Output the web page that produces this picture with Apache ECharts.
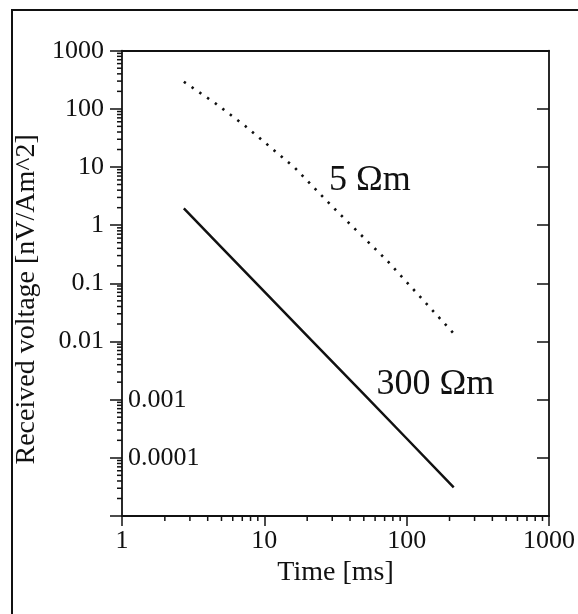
<!DOCTYPE html>
<html>
<head>
<meta charset="utf-8">
<script src="https://cdn.jsdelivr.net/npm/echarts@6/dist/echarts.min.js"></script>
<style>
  html, body { margin: 0; padding: 0; background: #fff; }
  #chart { width: 578px; height: 614px; }
</style>
</head>
<body>
<div id="chart"></div>
<script>
// ---- data ----
const time300 = [2.72, 5, 10, 20, 50, 100, 214];
const volt300 = [1.94, 0.416, 0.072, 0.0125, 0.00124, 0.000215, 0.000031];

const time5 = [2.72, 4.54, 7.31, 16.4, 25.1, 34.5, 72.4, 214];
const volt5 = [293, 124, 51.2, 9.69, 3.28, 1.49, 0.25, 0.0137];

const xMin = 1, xMax = 1000;
const yMin = 0.00001, yMax = 1000;

const xTickLabels = ['1', '10', '100', '1000'];           // exponents 0..3
const yTickLabels = ['1000', '100', '10', '1', '0.1', '0.01']; // exponents 3..-2
const yTickExps = [3, 2, 1, 0, -1, -2];
const yInsideLabels = ['0.001', '0.0001'];
const yInsideExps = [-3, -4];

const xMinorTicks = [2, 3, 4, 5, 6, 7, 8, 9, 20, 30, 40, 50, 60, 70, 80, 90, 200, 300, 400, 500, 600, 700, 800, 900];
const yMinorTicks = [
  2e-5, 3e-5, 4e-5, 5e-5, 6e-5, 7e-5, 8e-5, 9e-5,
  2e-4, 3e-4, 4e-4, 5e-4, 6e-4, 7e-4, 8e-4, 9e-4,
  0.002, 0.003, 0.004, 0.005, 0.006, 0.007, 0.008, 0.009,
  0.02, 0.03, 0.04, 0.05, 0.06, 0.07, 0.08, 0.09,
  0.2, 0.3, 0.4, 0.5, 0.6, 0.7, 0.8, 0.9,
  2, 3, 4, 5, 6, 7, 8, 9,
  20, 30, 40, 50, 60, 70, 80, 90,
  200, 300, 400, 500, 600, 700, 800, 900
];

const annotTime = [28.5, 61.5];
const annotVolt = [5.95, 0.0018];
const annotText = ['5 Ωm', '300 Ωm'];

// ---- chart ----
const INK = '#111111';
const FONT = '"Liberation Serif", "Times New Roman", serif';

const chart = echarts.init(document.getElementById('chart'), null, { renderer: 'canvas' });

function expOf(v) { return Math.round(Math.log10(v)); }

const zip = (a, b) => a.map((v, i) => [v, b[i]]);

const option = {
  animation: false,
  backgroundColor: '#fff',
  grid: { left: 122, right: 21, top: 50.7, bottom: 98, containLabel: false },
  graphic: [{
    type: 'polyline',
    shape: { points: [[12, 700], [12, 10], [700, 10]] },
    style: { fill: null, stroke: INK, lineWidth: 2 },
    silent: true
  }],
  xAxis: [{
    type: 'log', logBase: 10, min: xMin, max: xMax, position: 'bottom',
    splitNumber: 3,
    name: 'Time [ms]', nameLocation: 'middle', nameGap: 37,
    nameTextStyle: { fontFamily: FONT, fontSize: 28, color: INK },
    axisLine: { show: true, lineStyle: { color: INK, width: 1.8 } },
    axisTick: { show: true, length: 10, lineStyle: { color: INK, width: 1.5 } },
    axisLabel: {
      fontFamily: FONT, fontSize: 26, color: INK, margin: 12,
      formatter: v => xTickLabels[expOf(v)] || ''
    },
    splitLine: { show: false }, minorTick: { show: false }
  }, {
    type: 'log', logBase: 10, min: xMin, max: xMax, position: 'top',
    axisLine: { show: true, lineStyle: { color: INK, width: 1.8 } },
    axisTick: { show: false }, axisLabel: { show: false }, splitLine: { show: false }
  }],
  yAxis: [{
    type: 'log', logBase: 10, min: yMin, max: yMax, position: 'left',
    splitNumber: 8,
    name: 'Received voltage [nV/Am^2]', nameLocation: 'middle', nameGap: 58, nameRotate: 90,
    nameTextStyle: { fontFamily: FONT, fontSize: 28, color: INK, padding: [0, 32, 0, 0] },
    axisLine: { show: true, lineStyle: { color: INK, width: 1.8 } },
    axisTick: { show: true, length: 12, lineStyle: { color: INK, width: 1.5 } },
    axisLabel: {
      fontFamily: FONT, fontSize: 26, color: INK, margin: 18,
      formatter: v => { const i = yTickExps.indexOf(expOf(v)); return i >= 0 ? yTickLabels[i] : ''; }
    },
    splitLine: { show: false }, minorTick: { show: false }
  }, {
    type: 'log', logBase: 10, min: yMin, max: yMax, position: 'right',
    splitNumber: 8,
    axisLine: { show: true, lineStyle: { color: INK, width: 1.8 } },
    axisTick: { show: true, inside: true, length: 12, lineStyle: { color: INK, width: 1.5 } },
    axisLabel: { show: false }, splitLine: { show: false }
  }, {
    type: 'log', logBase: 10, min: yMin, max: yMax, position: 'left', offset: 0,
    splitNumber: 8,
    axisLine: { show: false }, axisTick: { show: false }, splitLine: { show: false },
    axisLabel: {
      inside: true, margin: 6, fontFamily: FONT, fontSize: 26, color: INK,
      formatter: v => { const i = yInsideExps.indexOf(expOf(v)); return i >= 0 ? yInsideLabels[i] : ''; }
    }
  }],
  series: [{
    name: '300 Ωm', type: 'line', xAxisIndex: 0, yAxisIndex: 0,
    data: zip(time300, volt300), showSymbol: false, symbol: 'none',
    lineStyle: { color: INK, width: 2.5 }, z: 3
  }, {
    name: '5 Ωm', type: 'line', xAxisIndex: 0, yAxisIndex: 0,
    data: zip(time5, volt5), showSymbol: false, symbol: 'none',
    lineStyle: { color: INK, width: 2.6, type: [2.4, 7], cap: 'butt' }, z: 3
  }, {
    name: 'xMinor', type: 'scatter', xAxisIndex: 0, yAxisIndex: 0, clip: false, silent: true,
    data: xMinorTicks.map(t => [t, yMin]),
    symbol: 'rect', symbolSize: [1.5, 5], symbolOffset: [0, 2.5],
    itemStyle: { color: INK, opacity: 1 }, z: 4
  }, {
    name: 'yMinor', type: 'scatter', xAxisIndex: 0, yAxisIndex: 0, clip: false, silent: true,
    data: yMinorTicks.map(v => [xMin, v]),
    symbol: 'rect', symbolSize: [5, 1.5], symbolOffset: [-2.5, 0],
    itemStyle: { color: INK, opacity: 1 }, z: 4
  }, {
    name: 'annotations', type: 'scatter', xAxisIndex: 0, yAxisIndex: 0, clip: false, silent: true,
    data: annotTime.map((t, i) => ({ value: [t, annotVolt[i]], label: { formatter: annotText[i] } })),
    symbolSize: 0,
    itemStyle: { opacity: 1 },
    label: {
      show: true, position: 'right', distance: 0, opacity: 1,
      fontFamily: FONT, fontSize: 36, color: INK
    }
  }]
};

chart.setOption(option);
</script>
</body>
</html>
